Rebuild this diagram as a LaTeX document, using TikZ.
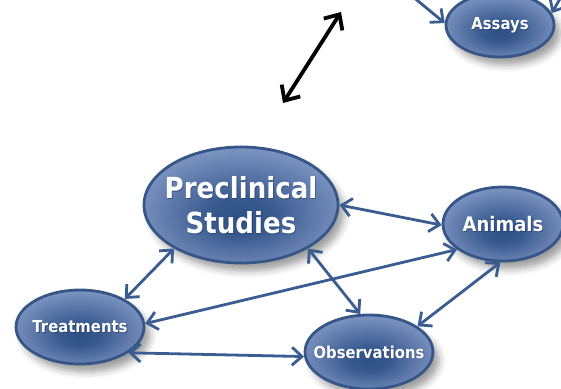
\documentclass[tikz,border=0pt]{standalone}
\usepackage{fontspec}
\setmainfont{DejaVu Sans}[FakeStretch=0.9]
\usetikzlibrary{arrows.meta,shapes.geometric,shadows.blur}

\definecolor{nodeedge}{RGB}{55,86,136}
\definecolor{nodelight}{RGB}{172,190,230}
\definecolor{nodedark}{RGB}{46,80,134}
\definecolor{linkblue}{RGB}{58,92,145}
\definecolor{textshade}{RGB}{30,50,90}

% dark core slightly below the centre, fading to a light rim
\pgfdeclareradialshading{bubble}{\pgfpoint{0bp}{-6bp}}{%
  color(0bp)=(nodedark); color(8bp)=(nodedark!92!nodelight);
  color(26bp)=(nodedark!42!nodelight); color(50bp)=(nodelight)}

\tikzset{
  bubble/.style={ellipse, draw=nodeedge, line width=2.8pt, shading=bubble,
    inner sep=0pt,
    blur shadow={shadow xshift=6pt, shadow yshift=-8pt,
      shadow blur radius=7pt, shadow opacity=38}},
  caption/.style 2 args={
    label={[text=textshade, opacity=0.55, align=center, font=#1,
            xshift=0.8pt, yshift=-0.8pt]center:#2},
    label={[text=white, align=center, font=#1]center:#2}},
  link/.style={draw=linkblue, line width=2.8pt, {Straight Barb[length=10pt,width=18pt]}-{Straight Barb[length=10pt,width=18pt]}},
  inlink/.style={draw=linkblue, line width=2.8pt, -{Straight Barb[length=10pt,width=18pt]}},
  bigarrow/.style={draw=black, line width=3.8pt,
    {Straight Barb[length=12pt,width=22pt]}-{Straight Barb[length=12pt,width=22pt]}},
}

\begin{document}
\begin{tikzpicture}[x=1pt,y=-1pt]
\useasboundingbox (0,0) rectangle (561,388);
\clip (0,0) rectangle (561,388);

% nodes
\node[bubble, minimum width=108pt, minimum height=64pt,
      caption={\bfseries\fontsize{16.5}{18}\selectfont}{Assays}] (assays) at (500,25) {};
\node[bubble, minimum width=194pt, minimum height=116pt,
      caption={\bfseries\fontsize{29}{35}\selectfont}{Preclinical\\Studies}] (pre) at (241,205) {};
\node[bubble, minimum width=120pt, minimum height=74pt,
      caption={\bfseries\fontsize{20}{22}\selectfont}{Animals}] (animals) at (503,224) {};
\node[bubble, minimum width=128pt, minimum height=74pt,
      caption={\bfseries\fontsize{16.5}{18}\selectfont}{Treatments}] (treat) at (80,327) {};
\node[bubble, minimum width=128pt, minimum height=74pt,
      caption={\bfseries\fontsize{16.5}{18}\selectfont}{Observations}] (obs) at (369,352) {};

% connectors leaving the frame
\coordinate (inleft) at (412,-4);
\coordinate (inright) at (572,-22);
\draw[inlink] (inleft) -- (assays.178);
\draw[inlink] (inright) -- (assays.13);

% black double arrow
\coordinate (bigtop) at (341,12);
\coordinate (bigbot) at (283,103);
\draw[bigarrow] (bigbot) -- (bigtop);

% links between the studies
\draw[link] (pre.east) -- (animals.181);
\draw[link] (pre.213) -- (treat.32);
\draw[link] (pre.327) -- (obs.103);
\draw[link] (treat.3) -- (animals.209);
\draw[link] (animals.266) -- (obs.28);
\draw[link] (treat.332) -- (obs.184);
\end{tikzpicture}
\end{document}
